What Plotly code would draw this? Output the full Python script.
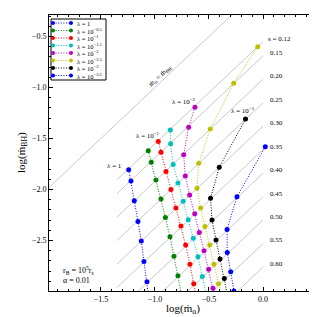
import plotly.graph_objects as go

# ---------------- data ----------------
S_VALUES = [0.12, 0.15, 0.20, 0.25, 0.30, 0.35, 0.40, 0.45, 0.50, 0.55, 0.60]
S_LABELS = ["s = 0.12", "0.15", "0.20", "0.25", "0.30", "0.35", "0.40", "0.45", "0.50", "0.55", "0.60"]
S_SLOPE = 4.6          # log(mdot_BH) = log(mdot_o) - S_SLOPE * s
S_LINE_X = [-1.35, 0.0]
EQ_LINE_X = [-2.0, 0.5]

LAMBDA_NAMES = ["λ = 1", "λ = 10<sup>−0.5</sup>", "λ = 10<sup>−1</sup>", "λ = 10<sup>−1.5</sup>",
                "λ = 10<sup>−2</sup>", "λ = 10<sup>−2.5</sup>", "λ = 10<sup>−3</sup>", "λ = 10<sup>−3.5</sup>"]
COLORS = ["#0000ff", "#008000", "#ff0000", "#00bfbf", "#bf00bf", "#bfbf00", "#000000", "#0000ff"]

X_L0 = [-1.243, -1.222, -1.191, -1.157, -1.126, -1.102, -1.074, -1.050]
Y_L0 = [-1.807, -1.918, -2.111, -2.313, -2.506, -2.705, -2.905, -3.120]
X_L05 = [-1.062, -1.034, -0.991, -0.944, -0.903, -0.861, -0.824, -0.787, -0.750]
Y_L05 = [-1.621, -1.734, -1.908, -2.094, -2.275, -2.464, -2.655, -2.846, -3.050]
X_L1 = [-0.969, -0.944, -0.898, -0.852, -0.806, -0.759, -0.716, -0.676, -0.641, -0.605]
Y_L1 = [-1.529, -1.636, -1.823, -2.001, -2.182, -2.359, -2.545, -2.733, -2.923, -3.135]
X_L15 = [-0.858, -0.855, -0.831, -0.787, -0.739, -0.692, -0.645, -0.602, -0.562, -0.520]
Y_L15 = [-1.418, -1.552, -1.754, -1.937, -2.116, -2.297, -2.479, -2.660, -2.852, -3.050]
X_L2 = [-0.630, -0.688, -0.734, -0.719, -0.679, -0.632, -0.590, -0.546, -0.503, -0.463, -0.420]
Y_L2 = [-1.195, -1.390, -1.660, -1.869, -2.055, -2.238, -2.421, -2.601, -2.783, -2.967, -3.180]
X_L25 = [-0.049, -0.271, -0.488, -0.595, -0.611, -0.577, -0.537, -0.493, -0.454, -0.412, -0.370]
Y_L25 = [-0.601, -0.958, -1.408, -1.744, -1.989, -2.182, -2.364, -2.545, -2.734, -2.923, -3.130]
X_L3 = [-0.162, -0.405, -0.486, -0.472, -0.435, -0.398, -0.358, -0.320]
Y_L3 = [-1.310, -1.783, -2.087, -2.300, -2.494, -2.682, -2.872, -3.080]
X_L35 = [0.021, -0.241, -0.333, -0.331, -0.299, -0.269]
Y_L35 = [-1.581, -2.071, -2.393, -2.617, -2.807, -2.996]

SERIES_X = [X_L0, X_L05, X_L1, X_L15, X_L2, X_L25, X_L3, X_L35]
SERIES_Y = [Y_L0, Y_L05, Y_L1, Y_L15, Y_L2, Y_L25, Y_L3, Y_L35]

LAMBDA_TAGS = ["λ = 1", "λ = 10<sup>−1</sup>", "λ = 10<sup>−2</sup>", "λ = 10<sup>−3</sup>"]
LAMBDA_TAG_POS = [(-1.37, -1.771), (-1.065, -1.467), (-0.731, -1.133), (-0.185, -1.222)]

FONT = "Liberation Serif"
DOT = "1px,1.6px"

# plot-area pixel frame (for the hand-built legend overlay)
L, R, T, B = 41, 308, 7, 283

fig = go.Figure()

fig.add_trace(go.Scatter(x=EQ_LINE_X, y=EQ_LINE_X, mode="lines",
                         line=dict(color="#c8c8c8", width=1), showlegend=False, hoverinfo="skip"))
for s in S_VALUES:
    fig.add_trace(go.Scatter(x=S_LINE_X, y=[v - S_SLOPE * s for v in S_LINE_X], mode="lines",
                             line=dict(color="#c8c8c8", width=1), showlegend=False, hoverinfo="skip"))

for name, col, xs, ys in zip(LAMBDA_NAMES, COLORS, SERIES_X, SERIES_Y):
    fig.add_trace(go.Scatter(x=xs, y=ys, mode="lines+markers", name=name, showlegend=False,
                             line=dict(color=col, width=1, dash=DOT),
                             marker=dict(color=col, size=5)))

# compact legend drawn on an overlay axis in pixel units
ann = []
LEG_X0, LEG_X1, LEG_TXT = 45, 63, 67
LEG_Y0, LEG_DY = 15, 7.5
for i, (name, col) in enumerate(zip(LAMBDA_NAMES, COLORS)):
    yy = LEG_Y0 + i * LEG_DY
    fig.add_trace(go.Scatter(x=[LEG_X0, LEG_X1], y=[yy, yy], xaxis="x2", yaxis="y2",
                             mode="lines+markers", showlegend=False, hoverinfo="skip",
                             line=dict(color=col, width=1, dash=DOT), marker=dict(color=col, size=4)))
    ann.append(dict(x=LEG_TXT, y=yy, xref="x2", yref="y2", text=name, showarrow=False,
                    xanchor="left", yanchor="middle", font=dict(family=FONT, size=6.5, color="black")))

shapes = [dict(type="rect", xref="x2", yref="y2", x0=43, x1=98, y0=11, y1=72,
               line=dict(color="black", width=1), fillcolor="white", layer="below")]

for s, lab in zip(S_VALUES, S_LABELS):
    ann.append(dict(x=0.03 if lab.startswith("s") else 0.045, y=0.0 - S_SLOPE * s + 0.03,
                    text=lab, showarrow=False, xanchor="left", yanchor="middle",
                    font=dict(family=FONT, size=7, color="black")))
for t, (px, py) in zip(LAMBDA_TAGS, LAMBDA_TAG_POS):
    ann.append(dict(x=px, y=py, text=t, showarrow=False, xanchor="center", yanchor="middle",
                    font=dict(family=FONT, size=7, color="black")))
ann.append(dict(x=-0.956, y=-0.885, text="ṁ<sub>o</sub> = ṁ<sub>BH</sub>", showarrow=False,
                textangle=-43, font=dict(family=FONT, size=7, color="black")))
ann.append(dict(x=-1.87, y=-2.79, text="r<sub>B</sub> = 10<sup>5</sup>r<sub>s</sub>", showarrow=False,
                xanchor="left", font=dict(family=FONT, size=8, color="black")))
ann.append(dict(x=-1.87, y=-2.895, text="α = 0.01", showarrow=False,
                xanchor="left", font=dict(family=FONT, size=8, color="black")))
# axis titles
ann.append(dict(x=0.502, y=-0.065, xref="paper", yref="paper", text="log(ṁ<sub>o</sub>)",
                showarrow=False, xanchor="center", yanchor="middle",
                font=dict(family=FONT, size=11, color="black")))
ann.append(dict(x=-0.101, y=0.5, xref="paper", yref="paper", text="log(ṁ<sub>BH</sub>)",
                showarrow=False, textangle=-90, xanchor="center", yanchor="middle",
                font=dict(family=FONT, size=11, color="black")))

axis_common = dict(showgrid=False, zeroline=False, showline=True, linecolor="black", linewidth=1,
                   mirror="allticks", ticks="inside", ticklen=4, tickcolor="black", tickwidth=1,
                   automargin=False,
                   tickfont=dict(family=FONT, size=8, color="black"), tickformat=".1f",
                   minor=dict(ticks="inside", ticklen=2, dtick=0.1, tickcolor="black", showgrid=False))

fig.update_layout(
    width=317, height=317,
    margin=dict(l=L, r=317 - R, t=T, b=317 - B, autoexpand=False),
    paper_bgcolor="white", plot_bgcolor="white",
    showlegend=False,
    xaxis=dict(range=[-1.98, 0.49], tickvals=[-1.5, -1.0, -0.5, 0.0], **axis_common),
    yaxis=dict(range=[-2.995, -0.29], tickvals=[-2.5, -2.0, -1.5, -1.0, -0.5], **axis_common),
    xaxis2=dict(overlaying="x", range=[L, R], visible=False, fixedrange=True),
    yaxis2=dict(overlaying="y", range=[B, T], visible=False, fixedrange=True),
    annotations=ann,
    shapes=shapes,
)

fig.write_html("out.html")
